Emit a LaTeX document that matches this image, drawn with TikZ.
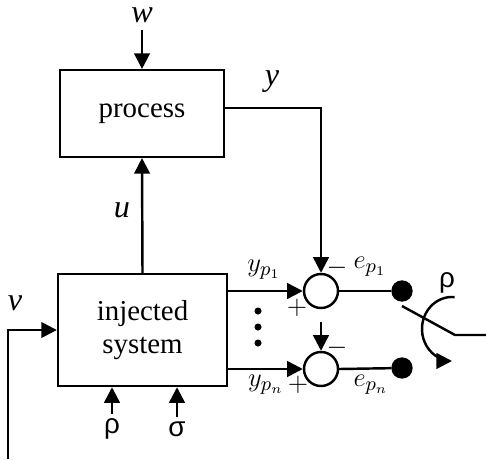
\documentclass[tikz,border=0pt]{standalone}
\usepackage{fontspec}
\setmainfont{Liberation Serif}
\newfontfamily\grsans{Liberation Sans}
\usetikzlibrary{arrows.meta}

\begin{document}
\begin{tikzpicture}[
  x=0.45pt, y=0.45pt,
  >={Triangle[length=7pt,width=7pt]},
  line width=1.1pt,
  blk/.style = {draw, minimum width=74pt, minimum height=39pt,
                align=center, inner sep=0pt,
                font=\fontsize{13}{15}\selectfont},
  sum/.style = {draw, circle, minimum size=15.3pt, inner sep=0pt},
  pin/.style = {draw, circle, fill, minimum size=8.5pt, inner sep=0pt},
  sig/.style = {inner sep=0pt, font=\fontsize{14.5}{15}\selectfont\itshape},
  mth/.style = {inner sep=0pt, font=\fontsize{12.5}{14}\selectfont},
  gr/.style  = {inner sep=0pt, font=\fontsize{12.5}{15}\selectfont\grsans}
]
\useasboundingbox (0,0) rectangle (486,459);

% Blocks
\node[blk] (proc) at (142,345.5) {process};
\node[blk, minimum width=76pt, minimum height=50.4pt] (inj) at (142.5,129) {injected\\system};

% Comparators and switch contacts
\node[sum] (sum1) at (321,168) {};
\node[sum] (sum2) at (321,90)  {};
\node[pin] (pin1) at (402,168) {};
\node[pin] (pin2) at (402,91)  {};

% Signal labels
\node[sig] (w) at (142,444) {w};
\node[sig] (y) at (272,377) {y};
\node[sig] (u) at (122,249) {u};
\node[sig] (v) at (15,156)  {v};
\node[gr] (rho)   at (112,30)  {ρ};
\node[gr] (sigma) at (177,30)  {σ};
\node[gr] (rhosw) at (447,176) {ρ};

\node[mth] (yp1) at (264,189) {$y_{p_1}$};
\node[mth] (ypn) at (266,74)  {$y_{p_n}$};
\node[mth] (ep1) at (370,192) {$e_{p_1}$};
\node[mth] (epn) at (371,74)  {$e_{p_n}$};
\node[mth] (pl1) at (297,151) {$+$};
\node[mth] (mi1) at (337,191) {$-$};
\node[mth] (pl2) at (298,74)  {$+$};
\node[mth] (mi2) at (337,111) {$-$};

% Free ends
\coordinate (win)  at (142,429);
\coordinate (ycor) at (321,351);
\coordinate (vin)  at (8,0);
\coordinate (min2) at (321,137);
\coordinate (swa)  at (402,153);
\coordinate (swb)  at (455,124);
\coordinate (swc)  at (486,124);

% Process loop
\draw[->] (win) -- (proc.north);
\draw[->] (proc.east |- ycor) -- (ycor) -- (sum1.north);
\draw[->] (inj.north) -- (proc.south);
\draw[->] (vin) |- (inj.west);
\draw[->] ([yshift=1.5pt]rho.north) -- (rho.north |- inj.south);
\draw[->] ([yshift=1.5pt]sigma.north) -- (sigma.north |- inj.south);

% Outputs to comparators
\draw[->] (inj.east |- sum1) -- (sum1.west);
\draw[->] (inj.east |- sum2) -- (sum2.west);
\draw[->] (min2) -- (sum2.north);
\draw (sum1.east) -- (pin1);
\draw (sum2.east) -- (pin2);
\foreach \yy in {148,132,116}
  \fill (258,\yy) circle (1.6pt);

% Switch
\draw (swa) -- (swb) -- (swc);
\draw[->] (454.6,161.9) arc[start angle=85, end angle=270, x radius=30, y radius=32];

\end{tikzpicture}
\end{document}
